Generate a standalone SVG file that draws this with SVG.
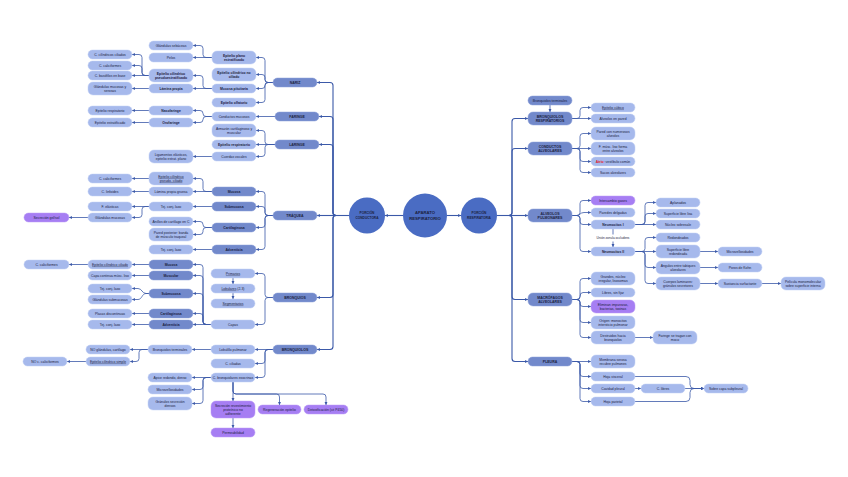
<svg xmlns="http://www.w3.org/2000/svg" width="848" height="477" viewBox="0 0 848 477">
<style>
.l2{fill:#7289cb;stroke:#8fa3db;stroke-width:.5}
.l3{fill:#a6b9ec;stroke:#c3d0f4;stroke-width:.5}
.pu{fill:#a67ef3;stroke:#bd9ff7;stroke-width:.5}
.ci{fill:#4a6cc3}
text{font-family:"Liberation Sans",Arial,sans-serif;font-size:3.4px;fill:#1b2140;text-anchor:middle}
.b{font-weight:bold}
.u{text-decoration:underline}
.h2{font-size:3.5px;font-weight:bold}
#k path{fill:none;stroke:#3b59a8;stroke-width:.8;marker-end:url(#ar)}
#k path.tk{stroke-width:1.1}
</style>
<defs><marker id="ar" viewBox="0 0 6 6" refX="5.5" refY="3" markerWidth="3.2" markerHeight="3.2" markerUnits="userSpaceOnUse" orient="auto"><path d="M0,0.3 L6,3 L0,5.7 z" fill="#3b59a8"/></marker></defs>
<rect width="848" height="477" fill="#fff"/>

<g id="k">
<path class="tk" d="M403 215.5 H385"/>
<path class="tk" d="M447 215.5 H461"/>
<path class="tk" d="M349 215.5 H336 Q333 215.5 333 212.5 V85.5 Q333 82.5 330 82.5 H317"/>
<path class="tk" d="M349 215.5 H336 Q333 215.5 333 212.5 V119.5 Q333 116.5 330 116.5 H319"/>
<path class="tk" d="M349 215.5 H336 Q333 215.5 333 212.5 V147.5 Q333 144.5 330 144.5 H319"/>
<path class="tk" d="M349 215.5 H317"/>
<path class="tk" d="M349 215.5 H336 Q333 215.5 333 218.5 V294.5 Q333 297.5 330 297.5 H317"/>
<path class="tk" d="M349 215.5 H336 Q333 215.5 333 218.5 V346.5 Q333 349.5 330 349.5 H317"/>
<path class="tk" d="M497 215.5 H509 Q512 215.5 512 212.5 V121.5 Q512 118.5 515 118.5 H528"/>
<path class="tk" d="M497 215.5 H509 Q512 215.5 512 212.5 V151.5 Q512 148.5 515 148.5 H528"/>
<path class="tk" d="M497 215.5 H528"/>
<path class="tk" d="M497 215.5 H509 Q512 215.5 512 218.5 V296.5 Q512 299.5 515 299.5 H528"/>
<path class="tk" d="M497 215.5 H509 Q512 215.5 512 218.5 V358.5 Q512 361.5 515 361.5 H528"/>
<path d="M550 105 V112"/>
<!-- nariz -->
<path d="M273 82.5 H268 Q265 82.5 265 79.5 V60.5 Q265 57.5 262 57.5 H256"/>
<path d="M273 82.5 H268 Q265 82.5 265 79.5 V77.5 Q265 74.5 262 74.5 H256"/>
<path d="M273 82.5 H268 Q265 82.5 265 85.5 Q265 88.5 262 88.5 H256"/>
<path d="M273 82.5 H268 Q265 82.5 265 85.5 V99.5 Q265 102.5 262 102.5 H256"/>
<path d="M275 116.5 H256"/>
<path d="M275 144.5 H268 Q265 144.5 265 141.5 V133.5 Q265 130.5 262 130.5 H256"/>
<path d="M275 144.5 H256"/>
<path d="M275 144.5 H268 Q265 144.5 265 147.5 V153.5 Q265 156.5 262 156.5 H256"/>
<path d="M273 215.5 H268 Q265 215.5 265 212.5 V194.5 Q265 191.5 262 191.5 H256"/>
<path d="M273 215.5 H268 Q265 215.5 265 212.5 V209.5 Q265 206.5 262 206.5 H256"/>
<path d="M273 215.5 H268 Q265 215.5 265 218.5 V224.5 Q265 227.5 262 227.5 H256"/>
<path d="M273 215.5 H268 Q265 215.5 265 218.5 V246.5 Q265 249.5 262 249.5 H256"/>
<path d="M273 297.5 H268 Q265 297.5 265 294.5 V276.5 Q265 273.5 262 273.5 H255"/>
<path d="M273 297.5 H268 Q265 297.5 265 300.5 V321.5 Q265 324.5 262 324.5 H255"/>
<path d="M233 278 V284"/>
<path d="M233 293 V299"/>
<path d="M273 349.5 H255"/>
<path d="M273 349.5 H268 Q265 349.5 265 352.5 V360.5 Q265 363.5 262 363.5 H255"/>
<path d="M273 349.5 H268 Q265 349.5 265 352.5 V374.5 Q265 377.5 262 377.5 H255"/>
<!-- level 4 -->
<path d="M212 57.5 H206 Q203 57.5 203 54.5 V48.5 Q203 45.5 200 45.5 H193"/>
<path d="M212 57.5 H193"/>
<path d="M212 88.5 H206 Q203 88.5 203 85.5 V78.5 Q203 75.5 200 75.5 H193"/>
<path d="M212 88.5 H193"/>
<path d="M212 116.5 H206 Q203 116.5 203 113.5 Q203 110.5 200 110.5 H193"/>
<path d="M212 116.5 H206 Q203 116.5 203 119.5 Q203 122.5 200 122.5 H193"/>
<path d="M212 156.5 H193"/>
<path d="M212 191.5 H206 Q203 191.5 203 188.5 V181.5 Q203 178.5 200 178.5 H193"/>
<path d="M212 191.5 H193"/>
<path d="M212 206.5 H193"/>
<path d="M212 227.5 H206 Q203 227.5 203 224.5 Q203 221.5 200 221.5 H193"/>
<path d="M212 227.5 H206 Q203 227.5 203 230.5 V231.5 Q203 234.5 200 234.5 H193"/>
<path d="M212 249.5 H193"/>
<path d="M211 324.5 H206 Q203 324.5 203 321.5 V267.5 Q203 264.5 200 264.5 H193"/>
<path d="M211 324.5 H206 Q203 324.5 203 321.5 V278.5 Q203 275.5 200 275.5 H193"/>
<path d="M211 324.5 H206 Q203 324.5 203 321.5 V296.5 Q203 293.5 200 293.5 H193"/>
<path d="M211 324.5 H206 Q203 324.5 203 321.5 V316.5 Q203 313.5 200 313.5 H193"/>
<path d="M211 324.5 H193"/>
<path d="M211 349.5 H192"/>
<path d="M211 377.5 H192"/>
<path d="M211 377.5 H206 Q203 377.5 203 380.5 V386.5 Q203 389.5 200 389.5 H192"/>
<path d="M211 377.5 H206 Q203 377.5 203 380.5 V400.5 Q203 403.5 200 403.5 H192"/>
<!-- level 5 -->
<path d="M149 75.5 H145 Q142 75.5 142 72.5 V57.5 Q142 54.5 139 54.5 H132"/>
<path d="M149 75.5 H145 Q142 75.5 142 72.5 V68.5 Q142 65.5 139 65.5 H132"/>
<path d="M149 75.5 H132"/>
<path d="M149 88.5 H132"/>
<path d="M149 110.5 H132"/>
<path d="M149 122.5 H132"/>
<path d="M149 178.5 H132"/>
<path d="M149 191.5 H132"/>
<path d="M149 206.5 H132"/>
<path d="M149 206.5 H145 Q142 206.5 142 209.5 V214.5 Q142 217.5 139 217.5 H132"/>
<path d="M88 217.5 H69"/>
<path d="M149 264.5 H132"/>
<path d="M88 264.5 H69"/>
<path d="M149 275.5 H132"/>
<path d="M149 293.5 H146 C142 293.5 142 288.5 138 288.5 H132"/>
<path d="M149 293.5 H146 C142 293.5 142 299.5 138 299.5 H132"/>
<path d="M149 313.5 H132"/>
<path d="M149 324.5 H132"/>
<path d="M148 349.5 H130"/>
<path d="M148 349.5 H142 Q139 349.5 139 352.5 V358.5 Q139 361.5 136 361.5 H130"/>
<path d="M86 361.5 H67"/>
<path d="M233 382 V401"/>
<path d="M233 382 V391 Q233 394 236 394 H276.5 Q279.5 394 279.5 397 V405"/>
<path d="M233 382 V391 Q233 394 236 394 H323 Q326 394 326 397 V405"/>
<path d="M233 418 V428"/>
<!-- right -->
<path d="M572 118.5 H577 Q580 118.5 580 115.5 V110.5 Q580 107.5 583 107.5 H591"/>
<path d="M572 118.5 H591"/>
<path d="M572 148.5 H577 Q580 148.5 580 145.5 V136.5 Q580 133.5 583 133.5 H591"/>
<path d="M572 148.5 H591"/>
<path d="M572 148.5 H577 Q580 148.5 580 151.5 V158.5 Q580 161.5 583 161.5 H591"/>
<path d="M572 148.5 H577 Q580 148.5 580 151.5 V169.5 Q580 172.5 583 172.5 H591"/>
<path d="M572 215.5 H577 Q580 215.5 580 212.5 V203.5 Q580 200.5 583 200.5 H591"/>
<path d="M572 215.5 H577 C580 215.5 580 212.5 584 212.5 H591"/>
<path d="M572 215.5 H577 Q580 215.5 580 218.5 V221.5 Q580 224.5 583 224.5 H591"/>
<path d="M572 215.5 H577 Q580 215.5 580 218.5 V248.5 Q580 251.5 583 251.5 H591"/>
<path d="M613 229 V234.5" style="marker-end:none"/>
<path d="M613 241.5 V247"/>
<path d="M635 224.5 H642 Q645 224.5 645 221.5 V205.5 Q645 202.5 648 202.5 H656"/>
<path d="M635 224.5 H642 Q645 224.5 645 221.5 V216.5 Q645 213.5 648 213.5 H656"/>
<path d="M635 224.5 H656"/>
<path d="M635 251.5 H642 Q645 251.5 645 248.5 V240.5 Q645 237.5 648 237.5 H656"/>
<path d="M635 251.5 H656"/>
<path d="M635 251.5 H642 Q645 251.5 645 254.5 V264.5 Q645 267.5 648 267.5 H656"/>
<path d="M635 251.5 H642 Q645 251.5 645 254.5 V280.5 Q645 283.5 648 283.5 H656"/>
<path d="M700 251.5 H718"/>
<path d="M700 267.5 H718"/>
<path d="M700 283.5 H718"/>
<path d="M762 283.5 H781"/>
<path d="M572 299.5 H577 Q580 299.5 580 296.5 V281.5 Q580 278.5 583 278.5 H591"/>
<path d="M572 299.5 H577 Q580 299.5 580 296.5 Q580 292.5 583 292.5 H591"/>
<path d="M572 299.5 H577 Q580 299.5 580 302.5 V303.5 Q580 306.5 583 306.5 H591"/>
<path d="M572 299.5 H577 Q580 299.5 580 302.5 V319.5 Q580 322.5 583 322.5 H591"/>
<path d="M572 299.5 H577 Q580 299.5 580 302.5 V334.5 Q580 337.5 583 337.5 H591"/>
<path d="M635 337.5 H653"/>
<path d="M572 361.5 H591"/>
<path d="M572 361.5 H577 Q580 361.5 580 364.5 V373.5 Q580 376.5 583 376.5 H591"/>
<path d="M572 361.5 H577 Q580 361.5 580 364.5 V385.5 Q580 388.5 583 388.5 H591"/>
<path d="M572 361.5 H577 Q580 361.5 580 364.5 V398.5 Q580 401.5 583 401.5 H591"/>
<path d="M635 388.5 H641"/>
<path d="M685 388.5 H704"/>
<path d="M635 376.5 H686 Q690 376.5 690 380.5 V384.5 Q690 388.5 694 388.5 H704"/>
<path d="M635 401.5 H686 Q690 401.5 690 397.5 V392.5 Q690 388.5 694 388.5 H704"/>
</g>

<g id="aparato"><circle class="ci" cx="425" cy="215.5" r="22"/><text class="b" style="font-size:4.2px" x="425" y="213.5">APARATO</text><text class="b" style="font-size:4.2px" x="425" y="219.5">RESPIRATORIO</text></g>
<g id="conductora"><circle class="ci" cx="367" cy="215.5" r="18"/><text class="b" style="font-size:3.2px" x="367" y="214.3">PORCIÓN</text><text class="b" style="font-size:3.2px" x="367" y="218.7">CONDUCTORA</text></g>
<g id="respiratoria"><circle class="ci" cx="479" cy="215.5" r="18"/><text class="b" style="font-size:3.2px" x="479" y="214.3">PORCIÓN</text><text class="b" style="font-size:3.2px" x="479" y="218.7">RESPIRATORIA</text></g>

<g id="nariz"><rect class="l2" x="273" y="78" width="44" height="9" rx="4.5"/><text class="h2" x="295" y="83.7">NARIZ</text></g>
<g id="faringe"><rect class="l2" x="275" y="112" width="44" height="9" rx="4.5"/><text class="h2" x="297" y="117.7">FARINGE</text></g>
<g id="laringe"><rect class="l2" x="275" y="140" width="44" height="9" rx="4.5"/><text class="h2" x="297" y="145.7">LARINGE</text></g>
<g id="traquea"><rect class="l2" x="273" y="211" width="44" height="9" rx="4.5"/><text class="h2" x="295" y="216.7">TRÁQUEA</text></g>
<g id="bronquios"><rect class="l2" x="273" y="293" width="44" height="9" rx="4.5"/><text class="h2" x="295" y="298.7">BRONQUIOS</text></g>
<g id="bronquiolos"><rect class="l2" x="273" y="345" width="44" height="9" rx="4.5"/><text class="h2" x="295" y="350.7">BRONQUIOLOS</text></g>

<g id="ep-plano"><rect class="l3" x="212" y="51" width="44" height="13" rx="5"/><text class="b" x="234" y="56.7">Epitelio plano</text><text class="b" x="234" y="60.7">estratificado</text></g>
<g id="ep-cil-no"><rect class="l3" x="212" y="68" width="44" height="13" rx="5"/><text class="b" x="234" y="73.7">Epitelio cilíndrico no</text><text class="b" x="234" y="77.7">ciliado</text></g>
<g id="muc-pit"><rect class="l3" x="212" y="84" width="44" height="9" rx="4.5"/><text class="b" x="234" y="89.7">Mucosa pituitaria</text></g>
<g id="ep-olf"><rect class="l3" x="212" y="98" width="44" height="9" rx="4.5"/><text class="b" x="234" y="103.7">Epitelio olfatorio</text></g>
<g id="cond-muc"><rect class="l3" x="212" y="112" width="44" height="9" rx="4.5"/><text x="234" y="117.7">Conductos mucosos</text></g>
<g id="armazon"><rect class="l3" x="212" y="124" width="44" height="13" rx="5"/><text x="234" y="129.7">Armazón cartilaginoso y</text><text x="234" y="133.7">muscular</text></g>
<g id="ep-resp-l"><rect class="l3" x="212" y="140" width="44" height="9" rx="4.5"/><text class="b" x="234" y="145.7">Epitelio respiratorio</text></g>
<g id="cuerdas"><rect class="l3" x="212" y="152" width="44" height="9" rx="4.5"/><text x="234" y="157.7">Cuerdas vocales</text></g>
<g id="t-mucosa"><rect class="l2" x="212" y="187" width="44" height="9" rx="4.5"/><text class="b" x="234" y="192.7">Mucosa</text></g>
<g id="t-submucosa"><rect class="l2" x="212" y="202" width="44" height="9" rx="4.5"/><text class="b" x="234" y="207.7">Submucosa</text></g>
<g id="t-cart"><rect class="l2" x="212" y="223" width="44" height="9" rx="4.5"/><text class="b" x="234" y="228.7">Cartilaginosa</text></g>
<g id="t-adv"><rect class="l2" x="212" y="245" width="44" height="9" rx="4.5"/><text class="b" x="234" y="250.7">Adventicia</text></g>
<g id="primarios"><rect class="l3" x="211" y="269" width="44" height="9" rx="4.5"/><text class="u" x="233" y="274.7">Primarios</text></g>
<g id="lobulares"><rect class="l3" x="211" y="284" width="44" height="9" rx="4.5"/><text x="233" y="289.7"><tspan class="u">Lobulares</tspan> (2-3)</text></g>
<g id="segmentarios"><rect class="l3" x="211" y="299" width="44" height="9" rx="4.5"/><text class="u" x="233" y="304.7">Segmentarios</text></g>
<g id="capas"><rect class="l3" x="211" y="320" width="44" height="9" rx="4.5"/><text x="233" y="325.7">Capas</text></g>
<g id="lobulillo"><rect class="l3" x="211" y="345" width="44" height="9" rx="4.5"/><text x="233" y="350.7">Lobulillo pulmonar</text></g>
<g id="c-ciliadas"><rect class="l3" x="211" y="359" width="44" height="9" rx="4.5"/><text x="233" y="364.7">C. ciliadas</text></g>
<g id="c-bronq"><rect class="l3" x="211" y="373" width="44" height="9" rx="4.5"/><text x="233" y="378.7">C. bronquiolares exocrinas</text></g>

<g id="gl-seb"><rect class="l3" x="149" y="41" width="44" height="9" rx="4.5"/><text x="171" y="46.7">Glándulas sebáceas</text></g>
<g id="pelos"><rect class="l3" x="149" y="53" width="44" height="9" rx="4.5"/><text x="171" y="58.7">Pelos</text></g>
<g id="ep-cil-pseudo"><rect class="l3" x="149" y="69" width="44" height="13" rx="5"/><text class="b" x="171" y="74.7">Epitelio cilíndrico</text><text class="b" x="171" y="78.7">pseudoestratificado</text></g>
<g id="lam-prop"><rect class="l3" x="149" y="84" width="44" height="9" rx="4.5"/><text class="b" x="171" y="89.7">Lámina propia</text></g>
<g id="nasof"><rect class="l3" x="149" y="106" width="44" height="9" rx="4.5"/><text class="b" x="171" y="111.7">Nasofaringe</text></g>
<g id="orof"><rect class="l3" x="149" y="118" width="44" height="9" rx="4.5"/><text class="b" x="171" y="123.7">Orofaringe</text></g>
<g id="ligam"><rect class="l3" x="149" y="150" width="44" height="13" rx="5"/><text x="171" y="155.7">Ligamentos elásticos,</text><text x="171" y="159.7">epitelio estrat. plano</text></g>
<g id="t-ep"><rect class="l3" x="149" y="172" width="44" height="13" rx="5"/><text class="u" x="171" y="177.7">Epitelio cilíndrico</text><text class="u" x="171" y="181.7">pseudo. ciliado</text></g>
<g id="t-lam"><rect class="l3" x="149" y="187" width="44" height="9" rx="4.5"/><text x="171" y="192.7">Lámina propia gruesa</text></g>
<g id="t-tej1"><rect class="l3" x="149" y="202" width="44" height="9" rx="4.5"/><text x="171" y="207.7">Tej. conj. laxo</text></g>
<g id="anillos"><rect class="l3" x="149" y="217" width="44" height="9" rx="4.5"/><text x="171" y="222.7">Anillos de cartílago en C</text></g>
<g id="pared-post"><rect class="l3" x="149" y="228" width="44" height="13" rx="5"/><text x="171" y="233.7">Pared posterior: banda</text><text x="171" y="237.7">de músculo traqueal</text></g>
<g id="t-tej2"><rect class="l3" x="149" y="245" width="44" height="9" rx="4.5"/><text x="171" y="250.7">Tej. conj. laxo</text></g>
<g id="b-mucosa"><rect class="l2" x="149" y="260" width="44" height="9" rx="4.5"/><text class="b" x="171" y="265.7">Mucosa</text></g>
<g id="b-muscular"><rect class="l2" x="149" y="271" width="44" height="9" rx="4.5"/><text class="b" x="171" y="276.7">Muscular</text></g>
<g id="b-submucosa"><rect class="l2" x="149" y="289" width="44" height="9" rx="4.5"/><text class="b" x="171" y="294.7">Submucosa</text></g>
<g id="b-cart"><rect class="l2" x="149" y="309" width="44" height="9" rx="4.5"/><text class="b" x="171" y="314.7">Cartilaginosa</text></g>
<g id="b-adv"><rect class="l2" x="149" y="320" width="44" height="9" rx="4.5"/><text class="b" x="171" y="325.7">Adventicia</text></g>
<g id="bq-term"><rect class="l3" x="148" y="345" width="44" height="9" rx="4.5"/><text x="170" y="350.7">Bronquiolos terminales</text></g>
<g id="apice"><rect class="l3" x="148" y="373" width="44" height="9" rx="4.5"/><text x="170" y="378.7">Ápice redondo, denso</text></g>
<g id="microv-l"><rect class="l3" x="148" y="385" width="44" height="9" rx="4.5"/><text x="170" y="390.7">Microvellosidades</text></g>
<g id="granulos"><rect class="l3" x="148" y="397" width="44" height="13" rx="5"/><text x="170" y="402.7">Gránulos secreción</text><text x="170" y="406.7">densos</text></g>

<g id="c-cil-cil"><rect class="l3" x="88" y="50" width="44" height="9" rx="4.5"/><text x="110" y="55.7">C. cilíndricos ciliados</text></g>
<g id="c-calic1"><rect class="l3" x="88" y="61" width="44" height="9" rx="4.5"/><text x="110" y="66.7">C. caliciformes</text></g>
<g id="c-baso"><rect class="l3" x="88" y="71" width="44" height="9" rx="4.5"/><text x="110" y="76.7">C. basófilos en base</text></g>
<g id="gl-muc-ser"><rect class="l3" x="88" y="82" width="44" height="13" rx="5"/><text x="110" y="87.7">Glándulas mucosas y</text><text x="110" y="91.7">serosas</text></g>
<g id="ep-resp-f"><rect class="l3" x="88" y="106" width="44" height="9" rx="4.5"/><text x="110" y="111.7">Epitelio respiratorio</text></g>
<g id="ep-estr"><rect class="l3" x="88" y="118" width="44" height="9" rx="4.5"/><text x="110" y="123.7">Epitelio estratificado</text></g>
<g id="t-calic"><rect class="l3" x="88" y="174" width="44" height="9" rx="4.5"/><text x="110" y="179.7">C. caliciformes</text></g>
<g id="t-linf"><rect class="l3" x="88" y="187" width="44" height="9" rx="4.5"/><text x="110" y="192.7">C. linfoides</text></g>
<g id="f-elast"><rect class="l3" x="88" y="202" width="44" height="9" rx="4.5"/><text x="110" y="207.7">F. elásticas</text></g>
<g id="gl-muc"><rect class="l3" x="88" y="213" width="44" height="9" rx="4.5"/><text x="110" y="218.7">Glándulas mucosas</text></g>
<g id="b-ep"><rect class="l3" x="88" y="260" width="44" height="9" rx="4.5"/><text class="u" x="110" y="265.7">Epitelio cilíndrico ciliado</text></g>
<g id="capa-cont"><rect class="l3" x="88" y="271" width="44" height="9" rx="4.5"/><text x="110" y="276.7">Capa continua músc. liso</text></g>
<g id="b-tej1"><rect class="l3" x="88" y="284" width="44" height="9" rx="4.5"/><text x="110" y="289.7">Tej. conj. laxo</text></g>
<g id="gl-sub"><rect class="l3" x="88" y="295" width="44" height="9" rx="4.5"/><text x="110" y="300.7">Glándulas submucosas</text></g>
<g id="placas"><rect class="l3" x="88" y="309" width="44" height="9" rx="4.5"/><text x="110" y="314.7">Placas discontinuas</text></g>
<g id="b-tej2"><rect class="l3" x="88" y="320" width="44" height="9" rx="4.5"/><text x="110" y="325.7">Tej. conj. laxo</text></g>
<g id="no-gl"><rect class="l3" x="86" y="345" width="44" height="9" rx="4.5"/><text x="108" y="350.7">NO glándulas, cartílago</text></g>
<g id="ep-cil-simple"><rect class="l3" x="86" y="357" width="44" height="9" rx="4.5"/><text class="u" x="108" y="362.7">Epitelio cilíndrico simple</text></g>

<g id="secrecion-gel"><rect class="pu" x="24" y="213" width="45" height="9" rx="4.5"/><text x="46.5" y="218.7">Secreción gel/sol</text></g>
<g id="b-calic"><rect class="l3" x="24" y="260" width="45" height="9" rx="4.5"/><text x="46.5" y="265.7">C. caliciformes</text></g>
<g id="no-calic"><rect class="l3" x="23" y="357" width="44" height="9" rx="4.5"/><text x="45" y="362.7">NO c. caliciformes</text></g>

<g id="secr-rev"><rect class="pu" x="211" y="401" width="44" height="17" rx="5"/><text x="233" y="406.7">Secreción revestimiento</text><text x="233" y="410.7">proteínico no</text><text x="233" y="414.7">adherente</text></g>
<g id="perme"><rect class="pu" x="211" y="428" width="44" height="9" rx="4.5"/><text x="233" y="433.7">Permeabilidad</text></g>
<g id="regen"><rect class="pu" x="258" y="405" width="43" height="9" rx="4.5"/><text x="279.5" y="410.7">Regeneración epitelio</text></g>
<g id="detox"><rect class="pu" x="304" y="405" width="44" height="9" rx="4.5"/><text x="326" y="410.7">Detoxificación (cit P450)</text></g>

<g id="bq-term-r"><rect class="l2" x="528" y="96" width="44" height="9" rx="4.5"/><text x="550" y="101.7">Bronquiolos terminales</text></g>
<g id="bq-resp"><rect class="l2" x="528" y="112" width="44" height="13" rx="5"/><text class="h2" x="550" y="117.7">BRONQUIOLOS</text><text class="h2" x="550" y="121.7">RESPIRATORIOS</text></g>
<g id="cond-alv"><rect class="l2" x="528" y="142" width="44" height="13" rx="5"/><text class="h2" x="550" y="147.7">CONDUCTOS</text><text class="h2" x="550" y="151.7">ALVEOLARES</text></g>
<g id="alv-pulm"><rect class="l2" x="528" y="209" width="44" height="13" rx="5"/><text class="h2" x="550" y="214.7">ALVEOLOS</text><text class="h2" x="550" y="218.7">PULMONARES</text></g>
<g id="macro"><rect class="l2" x="528" y="293" width="44" height="13" rx="5"/><text class="h2" x="550" y="298.7">MACRÓFAGOS</text><text class="h2" x="550" y="302.7">ALVEOLARES</text></g>
<g id="pleura"><rect class="l2" x="528" y="357" width="44" height="9" rx="4.5"/><text class="h2" x="550" y="362.7">PLEURA</text></g>

<g id="ep-cub"><rect class="l3" x="591" y="103" width="44" height="9" rx="4.5"/><text class="u" x="613" y="108.7">Epitelio cúbico</text></g>
<g id="alv-pared"><rect class="l3" x="591" y="114" width="44" height="9" rx="4.5"/><text x="613" y="119.7">Alveolos en pared</text></g>
<g id="pared-num"><rect class="l3" x="591" y="127" width="44" height="13" rx="5"/><text x="613" y="132.7">Pared con numerosos</text><text x="613" y="136.7">alveolos</text></g>
<g id="f-musc"><rect class="l3" x="591" y="142" width="44" height="13" rx="5"/><text x="613" y="147.7">F. músc. liso forma</text><text x="613" y="151.7">entre alveolos</text></g>
<g id="atrio"><rect class="l3" x="591" y="157" width="44" height="9" rx="4.5"/><text x="613" y="162.7"><tspan fill="#e0161b" font-weight="bold">Atrio</tspan>: vestíbulo común</text></g>
<g id="sacos"><rect class="l3" x="591" y="168" width="44" height="9" rx="4.5"/><text x="613" y="173.7">Sacos alveolares</text></g>
<g id="interc"><rect class="pu" x="591" y="196" width="44" height="9" rx="4.5"/><text x="613" y="201.7">Intercambio gases</text></g>
<g id="paredes-delg"><rect class="l3" x="591" y="208" width="44" height="9" rx="4.5"/><text x="613" y="213.7">Paredes delgadas</text></g>
<g id="neumo1"><rect class="l3" x="591" y="220" width="44" height="9" rx="4.5"/><text class="b" x="613" y="225.7">Neumocitos I</text></g>
<text id="union" x="613" y="239.2" style="font-size:3.1px">Unión zonula occludens</text>
<g id="neumo2"><rect class="l3" x="591" y="247" width="44" height="9" rx="4.5"/><text class="b" x="613" y="252.7">Neumocitos II</text></g>
<g id="grandes"><rect class="l3" x="591" y="272" width="44" height="13" rx="5"/><text x="613" y="277.7">Grandes, núcleo</text><text x="613" y="281.7">irregular, lisosomas</text></g>
<g id="libres"><rect class="l3" x="591" y="288" width="44" height="9" rx="4.5"/><text x="613" y="293.7">Libres, sin fijar</text></g>
<g id="elimina"><rect class="pu" x="591" y="300" width="44" height="13" rx="5"/><text x="613" y="305.7">Eliminan impurezas,</text><text x="613" y="309.7">bacterias, toxinas</text></g>
<g id="origen"><rect class="l3" x="591" y="316" width="44" height="13" rx="5"/><text x="613" y="321.7">Origen: monocitos</text><text x="613" y="325.7">intersticio pulmonar</text></g>
<g id="destru"><rect class="l3" x="591" y="331" width="44" height="13" rx="5"/><text x="613" y="336.7">Destruidos hacia</text><text x="613" y="340.7">bronquiolos</text></g>
<g id="membrana"><rect class="l3" x="591" y="355" width="44" height="13" rx="5"/><text x="613" y="360.7">Membrana serosa</text><text x="613" y="364.7">recubre pulmones</text></g>
<g id="hoja-visc"><rect class="l3" x="591" y="372" width="44" height="9" rx="4.5"/><text x="613" y="377.7">Hoja visceral</text></g>
<g id="cavidad"><rect class="l3" x="591" y="384" width="44" height="9" rx="4.5"/><text x="613" y="389.7">Cavidad pleural</text></g>
<g id="hoja-par"><rect class="l3" x="591" y="397" width="44" height="9" rx="4.5"/><text x="613" y="402.7">Hoja parietal</text></g>

<g id="aplan"><rect class="l3" x="656" y="198" width="44" height="9" rx="4.5"/><text x="678" y="203.7">Aplanados</text></g>
<g id="sup-lisa"><rect class="l3" x="656" y="209" width="44" height="9" rx="4.5"/><text x="678" y="214.7">Superficie libre lisa</text></g>
<g id="nucleo"><rect class="l3" x="656" y="220" width="44" height="9" rx="4.5"/><text x="678" y="225.7">Núcleo sobresale</text></g>
<g id="redond"><rect class="l3" x="656" y="233" width="44" height="9" rx="4.5"/><text x="678" y="238.7">Redondeados</text></g>
<g id="sup-red"><rect class="l3" x="656" y="245" width="44" height="13" rx="5"/><text x="678" y="250.7">Superficie libre</text><text x="678" y="254.7">redondeada</text></g>
<g id="angulos"><rect class="l3" x="656" y="261" width="44" height="13" rx="5"/><text x="678" y="266.7">Ángulos entre tabiques</text><text x="678" y="270.7">alveolares</text></g>
<g id="cuerpos"><rect class="l3" x="656" y="277" width="44" height="13" rx="5"/><text x="678" y="282.7">Cuerpos laminares:</text><text x="678" y="286.7">gránulos secretores</text></g>
<g id="faringe-r"><rect class="l3" x="653" y="331" width="44" height="13" rx="5"/><text x="675" y="336.7">Faringe se tragan con</text><text x="675" y="340.7">moco</text></g>
<g id="c-libres"><rect class="l3" x="641" y="384" width="44" height="9" rx="4.5"/><text x="663" y="389.7">C. libres</text></g>
<g id="microv-r"><rect class="l3" x="718" y="247" width="44" height="9" rx="4.5"/><text x="740" y="252.7">Microvellosidades</text></g>
<g id="poros"><rect class="l3" x="718" y="263" width="44" height="9" rx="4.5"/><text x="740" y="268.7">Poros de Kohn</text></g>
<g id="sustancia"><rect class="l3" x="718" y="279" width="44" height="9" rx="4.5"/><text x="740" y="284.7">Sustancia surfactante</text></g>
<g id="sobre"><rect class="l3" x="704" y="384" width="44" height="9" rx="4.5"/><text x="726" y="389.7">Sobre capa subpleural</text></g>
<g id="pelicula"><rect class="l3" x="781" y="277" width="44" height="13" rx="5"/><text x="803" y="282.7">Película monomolecular</text><text x="803" y="286.7">sobre superficie interna</text></g>
</svg>
